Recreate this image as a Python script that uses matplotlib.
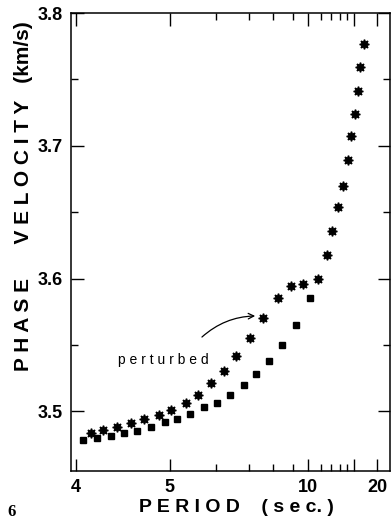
import matplotlib
matplotlib.use("Agg")
import matplotlib.pyplot as plt
import numpy as np

# perturbed model (star markers)
star_period = [4.13, 4.25, 4.38, 4.53, 4.68, 4.86, 5.02, 5.31, 5.57, 5.87,
               6.22, 6.57, 7.04, 7.54, 8.21, 8.90, 9.65, 10.78, 11.60, 12.10,
               12.78, 13.40, 14.08, 14.53, 15.17, 15.68, 16.05, 16.83]
star_velocity = [3.484, 3.486, 3.488, 3.491, 3.494, 3.497, 3.501, 3.506, 3.512, 3.521,
                 3.530, 3.542, 3.555, 3.570, 3.585, 3.594, 3.596, 3.600, 3.618, 3.636,
                 3.654, 3.670, 3.689, 3.707, 3.724, 3.741, 3.759, 3.777]

# reference model (square markers)
square_period = [4.06, 4.19, 4.32, 4.46, 4.60, 4.76, 4.93, 5.13, 5.39, 5.70,
                 6.03, 6.39, 6.83, 7.26, 7.80, 8.42, 9.20, 10.15]
square_velocity = [3.478, 3.480, 3.481, 3.484, 3.485, 3.488, 3.492, 3.494, 3.498, 3.503,
                   3.506, 3.512, 3.520, 3.528, 3.538, 3.550, 3.565, 3.585]

x_major = [4, 5, 10, 15, 20]
x_major_labels = ["4", "5", "10", "", "20"]
x_minor = [6, 7, 8, 9, 11, 12, 13, 14]
y_major = [3.5, 3.6, 3.7, 3.8]
y_minor = [3.55, 3.65, 3.75]

# period axis: linear in frequency above 5 s, stretched below 5 s
STRETCH = 1880.0 / 1380.0


def forward(t):
    t = np.asarray(t, dtype=float)
    with np.errstate(divide="ignore", invalid="ignore"):
        g = 0.2 - 1.0 / t
    return np.where(g >= 0, g, g * STRETCH)


def inverse(h):
    h = np.asarray(h, dtype=float)
    g = np.where(h >= 0, h, h / STRETCH)
    with np.errstate(divide="ignore", invalid="ignore"):
        return 1.0 / (0.2 - g)


fig = plt.figure(figsize=(3.92, 5.22), dpi=100)
ax = fig.add_axes([71 / 392, 51 / 522, 319 / 392, 458 / 522])
ax.set_xscale("function", functions=(forward, inverse))
ax.set_xlim(3.96, 24.6)
ax.set_ylim(3.455, 3.8)

ax.plot(star_period, star_velocity, linestyle="none", marker=(8, 1, 0),
        markersize=7, color="black")
ax.plot(square_period, square_velocity, linestyle="none", marker="s",
        markersize=4.2, color="black")

ax.set_xticks(x_major)
ax.set_xticklabels(x_major_labels)
ax.set_xticks(x_minor, minor=True)
ax.set_yticks(y_major)
ax.set_yticklabels([f"{v:.1f}" for v in y_major])
ax.set_yticks(y_minor, minor=True)

for s in ax.spines.values():
    s.set_linewidth(1.1)
ax.tick_params(which="both", direction="in", top=True, right=True, width=1.0)
ax.tick_params(which="major", length=9, pad=6)
ax.tick_params(which="minor", length=5)
for lab in ax.get_xticklabels() + ax.get_yticklabels():
    lab.set_fontfamily("Liberation Sans")
    lab.set_fontweight("bold")
    lab.set_fontsize(13)

ax.text(4.91, 3.5387, "p e r t u r b e d", ha="center", va="center",
        fontsize=10, family="Liberation Sans")
ax.annotate("", xy=(7.34, 3.5718), xytext=(5.61, 3.5545),
            arrowprops=dict(arrowstyle="->", color="black", lw=0.9,
                            connectionstyle="arc3,rad=-0.2"))

fig.text(236 / 392, 1 - 507 / 522, "P E R I O D    ( s e c. )", ha="center",
         va="center", fontsize=14, fontweight="bold", family="Liberation Sans")
fig.text(24 / 392, 1 - 196 / 522, "P H A S E      V E L O C I T Y   (km/s)",
         ha="center", va="center", rotation=90, fontsize=15,
         fontweight="bold", family="Liberation Sans")
fig.text(12 / 392, 1 - 512 / 522, "6", ha="center", va="center",
         fontsize=12, fontweight="bold", family="Liberation Serif")

fig.savefig("out.png", dpi=100)
